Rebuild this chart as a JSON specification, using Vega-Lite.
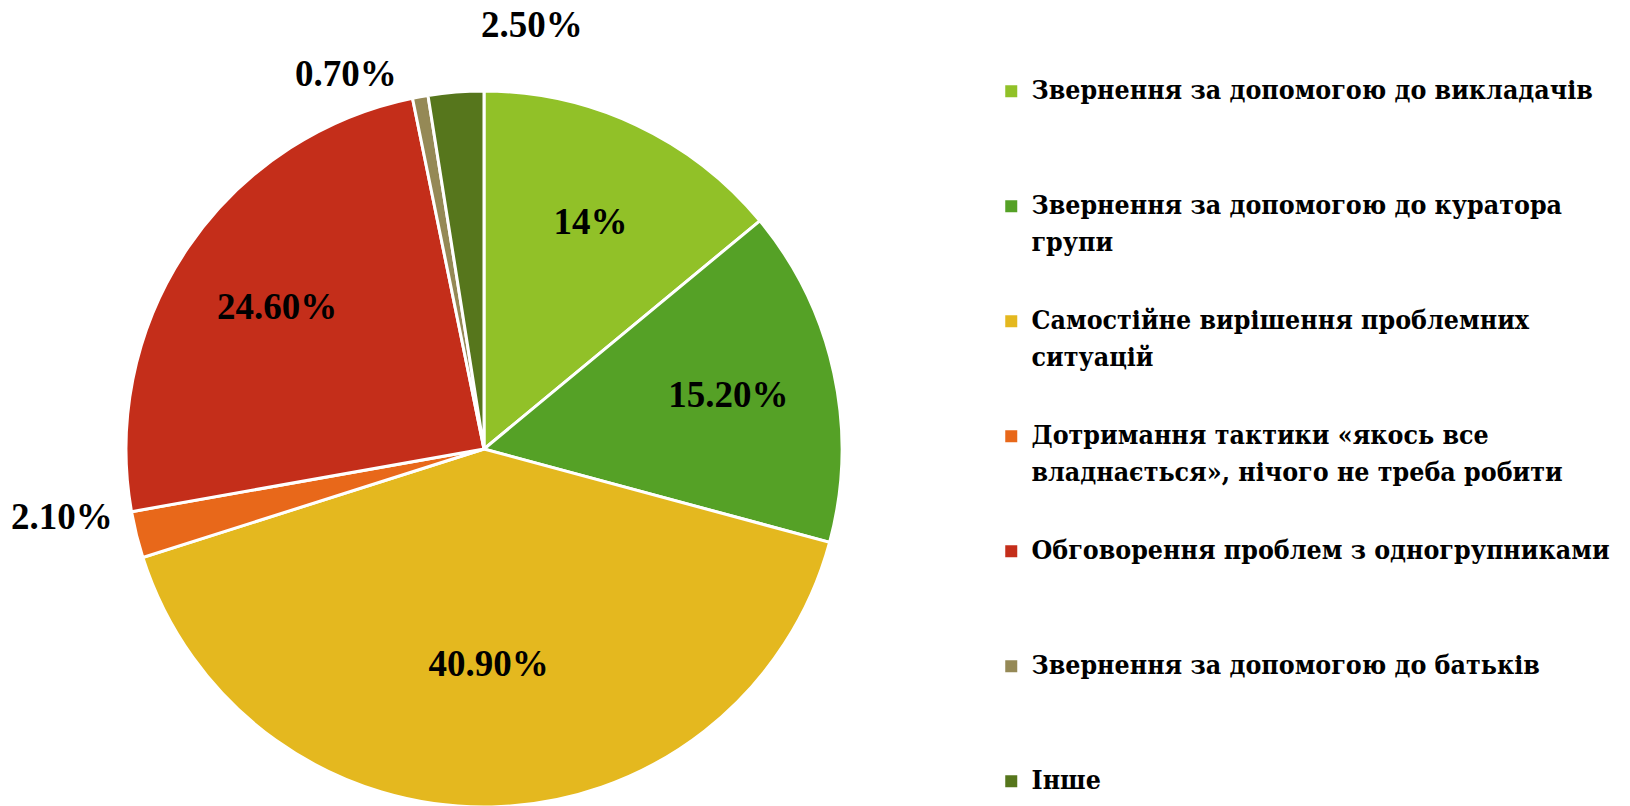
{
  "$schema": "https://vega.github.io/schema/vega-lite/v6.json",
  "width": 968,
  "height": 714,
  "autosize": {"type": "none"},
  "padding": {"left": 0, "top": 92, "right": 662, "bottom": 0},
  "background": "white",
  "config": {
    "view": {"stroke": null},
    "legend": {"labelFont": "DejaVu Serif Condensed", "labelFontWeight": "bold"},
    "style": {"guide-label": {"lineHeight": 37, "font": "DejaVu Serif Condensed", "fontWeight": "bold"}}
  },
  "data": {
    "values": [
      {"i": 1, "category": "Звернення за допомогою до викладачів", "value": 14, "label": "14%"},
      {"i": 2, "category": "Звернення за допомогою до куратора групи", "value": 15.2, "label": "15.20%"},
      {"i": 3, "category": "Самостійне вирішення проблемних ситуацій", "value": 40.9, "label": "40.90%"},
      {"i": 4, "category": "Дотримання тактики «якось все владнається», нічого не треба робити", "value": 2.1, "label": "2.10%"},
      {"i": 5, "category": "Обговорення проблем з одногрупниками", "value": 24.6, "label": "24.60%"},
      {"i": 6, "category": "Звернення за допомогою до батьків", "value": 0.7, "label": "0.70%"},
      {"i": 7, "category": "Інше", "value": 2.5, "label": "2.50%"}
    ]
  },
  "encoding": {
    "theta": {"field": "value", "type": "quantitative", "stack": true},
    "order": {"field": "i", "type": "quantitative"}
  },
  "layer": [
    {
      "mark": {"type": "arc", "outerRadius": 358, "stroke": "white", "strokeWidth": 3},
      "encoding": {
        "color": {
          "field": "category",
          "type": "nominal",
          "sort": null,
          "scale": {
            "domain": [
              "Звернення за допомогою до викладачів",
              "Звернення за допомогою до куратора групи",
              "Самостійне вирішення проблемних ситуацій",
              "Дотримання тактики «якось все владнається», нічого не треба робити",
              "Обговорення проблем з одногрупниками",
              "Звернення за допомогою до батьків",
              "Інше"
            ],
            "range": ["#91C128", "#55A126", "#E4B81F", "#E8681A", "#C42E1A", "#958956", "#56761C"]
          },
          "legend": {
            "title": null,
            "orient": "none",
            "legendX": 998,
            "legendY": -14,
            "padding": 0,
            "symbolType": "square",
            "symbolSize": 144,
            "symbolStrokeWidth": 0,
            "labelFont": "DejaVu Serif Condensed",
            "labelFontWeight": "bold",
            "labelFontSize": 26.5,
            "labelColor": "black",
            "labelLimit": 700,
            "labelOffset": 7,
            "rowPadding": 51,
            "labelExpr": "datum.label == 'Звернення за допомогою до куратора групи' ? ['Звернення за допомогою до куратора', 'групи'] : datum.label == 'Самостійне вирішення проблемних ситуацій' ? ['Самостійне вирішення проблемних', 'ситуацій'] : datum.label == 'Дотримання тактики «якось все владнається», нічого не треба робити' ? ['Дотримання тактики «якось все', 'владнається», нічого не треба робити'] : [datum.label, '']"
          }
        }
      }
    },
    {
      "mark": {"type": "text", "radius": 250, "font": "Liberation Serif", "fontWeight": "bold", "fontSize": 37, "color": "black"},
      "encoding": {
        "text": {"condition": {"test": "datum.i == 1 || datum.i == 2 || datum.i == 5", "field": "label"}, "value": ""}
      }
    },
    {
      "mark": {"type": "text", "radius": 216, "font": "Liberation Serif", "fontWeight": "bold", "fontSize": 37, "color": "black"},
      "encoding": {
        "text": {"condition": {"test": "datum.i == 3", "field": "label"}, "value": ""}
      }
    },
    {
      "mark": {"type": "text", "radius": 410, "dx": -24, "dy": -29, "font": "Liberation Serif", "fontWeight": "bold", "fontSize": 37, "color": "black"},
      "encoding": {
        "text": {"condition": {"test": "datum.i == 4", "field": "label"}, "value": ""}
      }
    },
    {
      "mark": {"type": "text", "radius": 410, "dx": -65, "dy": 29, "font": "Liberation Serif", "fontWeight": "bold", "fontSize": 37, "color": "black"},
      "encoding": {
        "text": {"condition": {"test": "datum.i == 6", "field": "label"}, "value": ""}
      }
    },
    {
      "mark": {"type": "text", "radius": 410, "dx": 80, "dy": -14, "font": "Liberation Serif", "fontWeight": "bold", "fontSize": 37, "color": "black"},
      "encoding": {
        "text": {"condition": {"test": "datum.i == 7", "field": "label"}, "value": ""}
      }
    }
  ]
}
